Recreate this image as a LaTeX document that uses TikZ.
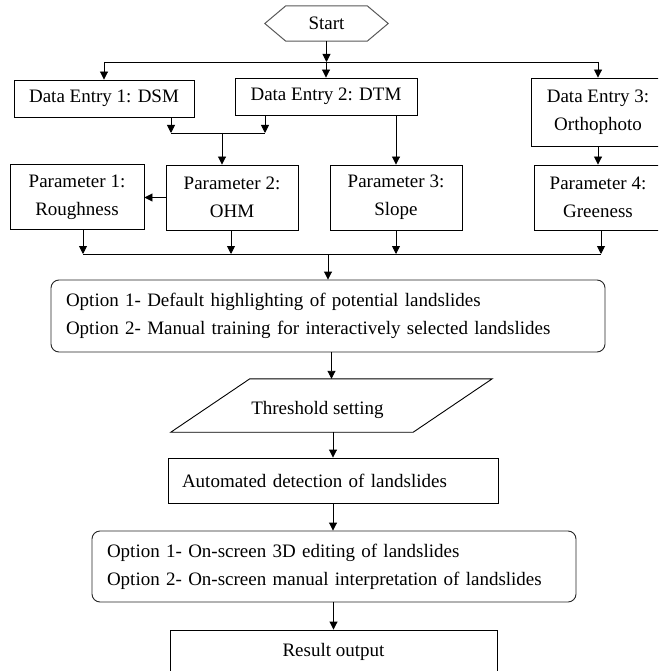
\documentclass[tikz,border=0pt]{standalone}
\usepackage{fontspec}
\setmainfont{Liberation Serif}
\usetikzlibrary{arrows.meta,calc}
\begin{document}
\begin{tikzpicture}[x=1pt,y=-1pt,
  every node/.style={font=\fontsize{19}{28}\selectfont, inner sep=0pt},
  box/.style={draw, line width=0.9pt, rectangle, align=center},
  rbox/.style={draw=black!85, line width=0.9pt, rounded corners=8pt, align=left},
  arr/.style={-{Triangle[length=8pt,width=8pt]}, line width=0.9pt},
  ln/.style={line width=0.9pt},
  hexline/.style={draw=black!65, line width=1pt}]
\useasboundingbox (0,0) rectangle (658,671);
\clip (0,0) rectangle (658,671);
\fill[white] (0,0) rectangle (658,671);

% nodes
\node[minimum width=123pt, minimum height=35pt] (start) at (326.5,23.5) {\raisebox{-2pt}{Start}};
\draw[hexline] (start.west) -- ([xshift=21pt]start.north west) -- ([xshift=-21pt]start.north east) -- (start.east) -- ([xshift=-21pt]start.south east) -- ([xshift=21pt]start.south west) -- cycle;

\node[box, minimum width=180pt, minimum height=37pt] (dsm) at (104,98.5) {Data Entry 1: DSM};
\node[box, minimum width=182pt, minimum height=37pt] (dtm) at (326,96.5) {Data Entry 2: DTM};
\node[box, minimum width=134pt, minimum height=68pt] (ortho) at (598,112) {\raisebox{-2pt}{Data Entry 3:}\\\raisebox{-2pt}{Orthophoto}};

\node[box, minimum width=134pt, minimum height=65pt] (p1) at (77,197) {\raisebox{-2pt}{Parameter 1:}\\\raisebox{-2pt}{Roughness}};
\node[box, minimum width=132pt, minimum height=65pt] (p2) at (232,197.5) {\raisebox{-2pt}{Parameter 2:}\\\raisebox{-2pt}{OHM}};
\node[box, minimum width=132pt, minimum height=65pt] (p3) at (396,197.5) {\raisebox{-2pt}{Parameter 3:}\\\raisebox{-2pt}{Slope}};
\node[box, minimum width=128pt, minimum height=65pt] (p4) at (598,197.5) {\raisebox{-2pt}{Parameter 4:}\\\raisebox{-2pt}{Greeness}};

\node[rbox, text width=524pt, inner xsep=15pt, minimum height=72pt] (opt1) at (328,316)
  {Option 1- Default highlighting of potential landslides\\Option 2- Manual training for interactively selected landslides};

\node[minimum width=321pt, minimum height=53pt] (thr) at (331.5,405.5) {};
\draw[ln] ([xshift=79pt]thr.north west) -- (thr.north east) -- ([xshift=-79pt]thr.south east) -- (thr.south west) -- cycle;
\node (thrtxt) at (317.5,410) {Threshold setting};

\node[box, align=left, text width=302pt, inner xsep=14pt, minimum height=45pt] (auto) at (333,480.5)
  {Automated detection of landslides};

\node[rbox, text width=454pt, inner xsep=15pt, minimum height=71pt] (opt2) at (334,566.5)
  {Option 1- On-screen 3D editing of landslides\\Option 2- On-screen manual interpretation of landslides};

\node[box, minimum width=327pt, minimum height=44pt] (result) at (333.5,652) {Result output};

% top bus
\coordinate (busT) at (0,62);
\draw[ln] (dsm.north |- busT) -- (ortho.north |- busT);
\draw[arr] (start.south) -- (start.south |- busT);
\draw[arr] (dsm.north |- busT) -- (dsm.north);
\draw[arr] (dtm.north |- busT) -- (dtm.north);
\draw[arr] (ortho.north |- busT) -- (ortho.north);

% DSM + DTM merge
\coordinate (m1) at (171,133);
\coordinate (m2) at (265,133);
\coordinate (m0) at (222,133);
\draw[arr] (dsm.south -| m1) -- (m1);
\draw[arr] (dtm.south -| m2) -- (m2);
\draw[ln] (m1) -- (m2);
\draw[arr] (m0) -- (p2.north -| m0);

\draw[arr] (dtm.south -| p3.north) -- (p3.north);
\draw[arr] (ortho.south) -- (p4.north);
\draw[arr] (p2.west) -- (p1.east |- p2.west);

% bottom bus
\coordinate (q1) at (83,254);
\coordinate (q2) at (231,254);
\coordinate (q3) at (396,254);
\coordinate (q4) at (601,254);
\draw[ln] (q1) -- (q4);
\draw[arr] (p1.south -| q1) -- (q1);
\draw[arr] (p2.south -| q2) -- (q2);
\draw[arr] (p3.south -| q3) -- (q3);
\draw[arr] (p4.south -| q4) -- (q4);
\draw[arr] (opt1.north |- q1) -- (opt1.north);

% lower chain
\draw[arr] (opt1.south -| thr.north) -- (thr.north);
\draw[arr] (thr.south -| auto.north) -- (auto.north);
\draw[arr] (auto.south) -- (auto.south |- opt2.north);
\draw[arr] (opt2.south -| result.north) -- (result.north);
\end{tikzpicture}
\end{document}
